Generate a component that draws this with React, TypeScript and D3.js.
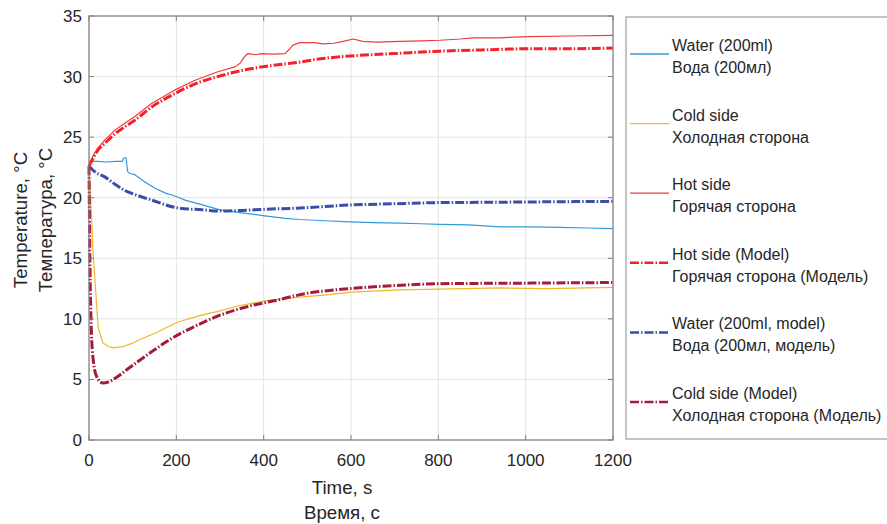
import React from "react";
import * as d3 from "d3";

const waterTime = [0, 20, 40, 60, 76, 80, 85, 87, 89, 95, 105, 128, 150, 174, 200, 220, 266, 300, 350, 403, 450, 483, 540, 598, 650, 712, 760, 804, 870, 941, 1010, 1080, 1140, 1200];
const waterVals = [23.0, 23.0, 22.95, 23.0, 23.0, 23.3, 23.3, 22.6, 22.1, 22.0, 21.9, 21.3, 20.8, 20.4, 20.1, 19.8, 19.35, 19.0, 18.75, 18.5, 18.3, 18.2, 18.1, 18.0, 17.95, 17.9, 17.85, 17.8, 17.75, 17.6, 17.6, 17.55, 17.5, 17.45];

const coldTime = [0, 5, 9, 14, 21, 32, 45, 55, 78, 100, 117, 156, 201, 247, 293, 346, 407, 483, 550, 600, 712, 804, 941, 1050, 1200];
const coldVals = [22.6, 19.0, 15.7, 13.0, 9.3, 8.0, 7.7, 7.6, 7.7, 8.0, 8.3, 8.9, 9.7, 10.2, 10.6, 11.1, 11.5, 11.8, 12.0, 12.2, 12.4, 12.45, 12.55, 12.5, 12.6];

const hotTime = [0, 10, 20, 37, 60, 80, 105, 144, 197, 243, 295, 334, 346, 355, 364, 380, 396, 420, 449, 460, 467, 483, 517, 536, 560, 582, 605, 627, 660, 712, 760, 804, 850, 880, 940, 1010, 1100, 1200];
const hotVals = [22.7, 23.5, 24.1, 24.8, 25.6, 26.1, 26.7, 27.8, 28.9, 29.7, 30.4, 30.8, 31.1, 31.6, 31.9, 31.8, 31.9, 31.85, 31.9, 32.3, 32.6, 32.8, 32.8, 32.7, 32.75, 32.9, 33.1, 32.9, 32.85, 32.9, 32.95, 33.0, 33.1, 33.2, 33.2, 33.3, 33.35, 33.4];

// model series
const hotModelTime = [0, 10, 20, 37, 60, 80, 105, 144, 197, 243, 295, 350, 396, 483, 517, 598, 700, 804, 900, 1010, 1100, 1200];
const hotModelVals = [22.6, 23.3, 23.9, 24.5, 25.3, 25.8, 26.4, 27.5, 28.6, 29.4, 30.0, 30.5, 30.8, 31.2, 31.4, 31.7, 31.9, 32.1, 32.2, 32.3, 32.3, 32.35];

const waterModelTime = [0, 15, 37, 60, 82, 110, 144, 197, 259, 300, 350, 403, 483, 598, 700, 804, 900, 1010, 1200];
const waterModelVals = [22.6, 22.1, 21.7, 21.1, 20.6, 20.2, 19.8, 19.2, 19.0, 18.9, 18.95, 19.05, 19.15, 19.4, 19.5, 19.6, 19.62, 19.65, 19.7];

const coldModelTime = [0, 2, 5, 10, 18, 32, 45, 64, 90, 117, 150, 179, 210, 238, 270, 300, 362, 437, 483, 598, 700, 804, 1010, 1200];
const coldModelVals = [22.6, 15, 9.5, 6.5, 5.2, 4.7, 4.8, 5.2, 5.9, 6.6, 7.45, 8.15, 8.8, 9.3, 9.85, 10.3, 11.0, 11.6, 12.0, 12.5, 12.75, 12.9, 12.95, 13.0];

const xTicks = [0, 200, 400, 600, 800, 1000, 1200];
const yTicks = [0, 5, 10, 15, 20, 25, 30, 35];

const dashDot = "9,2,1.5,2";

const series = [
  { en: "Water (200ml)", ru: "Вода (200мл)", t: waterTime, v: waterVals, color: "#3399dd", width: 1.2, dash: null, curve: d3.curveLinear },
  { en: "Cold side", ru: "Холодная сторона", t: coldTime, v: coldVals, color: "#efb72a", width: 1.2, dash: null, curve: d3.curveLinear },
  { en: "Hot side", ru: "Горячая сторона", t: hotTime, v: hotVals, color: "#ee3b3b", width: 1.2, dash: null, curve: d3.curveLinear },
  { en: "Hot side (Model)", ru: "Горячая сторона (Модель)", t: hotModelTime, v: hotModelVals, color: "#f5212a", width: 3, dash: dashDot, curve: d3.curveMonotoneX },
  { en: "Water (200ml, model)", ru: "Вода (200мл, модель)", t: waterModelTime, v: waterModelVals, color: "#3a4ea6", width: 3, dash: dashDot, curve: d3.curveMonotoneX },
  { en: "Cold side (Model)", ru: "Холодная сторона (Модель)", t: coldModelTime, v: coldModelVals, color: "#a51c3a", width: 3, dash: dashDot, curve: d3.curveMonotoneX },
];

const W = 887;
const H = 524;
const left = 89, right = 613, top = 16, bottom = 440;
const font = "'Liberation Sans', Arial, sans-serif";
const textColor = "#262626";

export default function App() {
  const x = d3.scaleLinear().domain([0, 1200]).range([left, right]);
  const y = d3.scaleLinear().domain([0, 35]).range([bottom, top]);

  return (
    <svg width={W} height={H} style={{ position: "absolute", left: 0, top: 0, background: "#fff" }} fontFamily={font}>
      <rect x={0} y={0} width={W} height={H} fill="#fff" />
      {/* grid */}
      {xTicks.map((t) => (
        <line key={"gx" + t} x1={x(t)} x2={x(t)} y1={top} y2={bottom} stroke="#e3e3e3" strokeWidth={1} />
      ))}
      {yTicks.map((t) => (
        <line key={"gy" + t} x1={left} x2={right} y1={y(t)} y2={y(t)} stroke="#e3e3e3" strokeWidth={1} />
      ))}

      {/* lines */}
      <g>
        {series.map((s) => {
          const pts = s.t.map((t, i) => [t, s.v[i]] as [number, number]);
          const line = d3.line<[number, number]>().x((d) => x(d[0])).y((d) => y(d[1])).curve(s.curve);
          return (
            <path key={s.en} d={line(pts) || ""} fill="none" stroke={s.color} strokeWidth={s.width}
              strokeDasharray={s.dash || undefined} strokeLinejoin="round" />
          );
        })}
      </g>

      {/* box + ticks */}
      <rect x={left} y={top} width={right - left} height={bottom - top} fill="none" stroke="#808080" strokeWidth={1.2} />
      {xTicks.map((t) => (
        <g key={"tx" + t}>
          <line x1={x(t)} x2={x(t)} y1={bottom} y2={bottom - 5} stroke="#808080" />
          <line x1={x(t)} x2={x(t)} y1={top} y2={top + 5} stroke="#808080" />
          <text x={x(t)} y={466} textAnchor="middle" fontSize={17} fill={textColor}>{t}</text>
        </g>
      ))}
      {yTicks.map((t) => (
        <g key={"ty" + t}>
          <line x1={left} x2={left + 5} y1={y(t)} y2={y(t)} stroke="#808080" />
          <line x1={right} x2={right - 5} y1={y(t)} y2={y(t)} stroke="#808080" />
          <text x={82} y={y(t) + 6} textAnchor="end" fontSize={17} fill={textColor}>{t}</text>
        </g>
      ))}

      {/* axis labels */}
      <text x={342} y={494} textAnchor="middle" fontSize={18.7} fill={textColor}>Time, s</text>
      <text x={342} y={519} textAnchor="middle" fontSize={18.7} fill={textColor}>Время, с</text>
      <g transform="translate(27,220) rotate(-90)">
        <text x={0} y={0} textAnchor="middle" fontSize={18.7} fill={textColor}>Temperature, °C</text>
        <text x={0} y={25} textAnchor="middle" fontSize={18.7} fill={textColor}>Температура, °C</text>
      </g>

      {/* legend */}
      <rect x={626} y={17} width={290} height={422} fill="#fff" stroke="#8a8a8a" strokeWidth={1} />
      {series.map((s, i) => {
        const ly = 54 + i * 69.6;
        return (
          <g key={"lg" + s.en}>
            <line x1={630} x2={669} y1={ly} y2={ly} stroke={s.color} strokeWidth={s.dash ? 2.5 : 1.3}
              strokeDasharray={s.dash || undefined} />
            <text x={672} y={ly - 3} fontSize={16} fill={textColor}>{s.en}</text>
            <text x={672} y={ly + 19} fontSize={16} fill={textColor}>{s.ru}</text>
          </g>
        );
      })}
    </svg>
  );
}
